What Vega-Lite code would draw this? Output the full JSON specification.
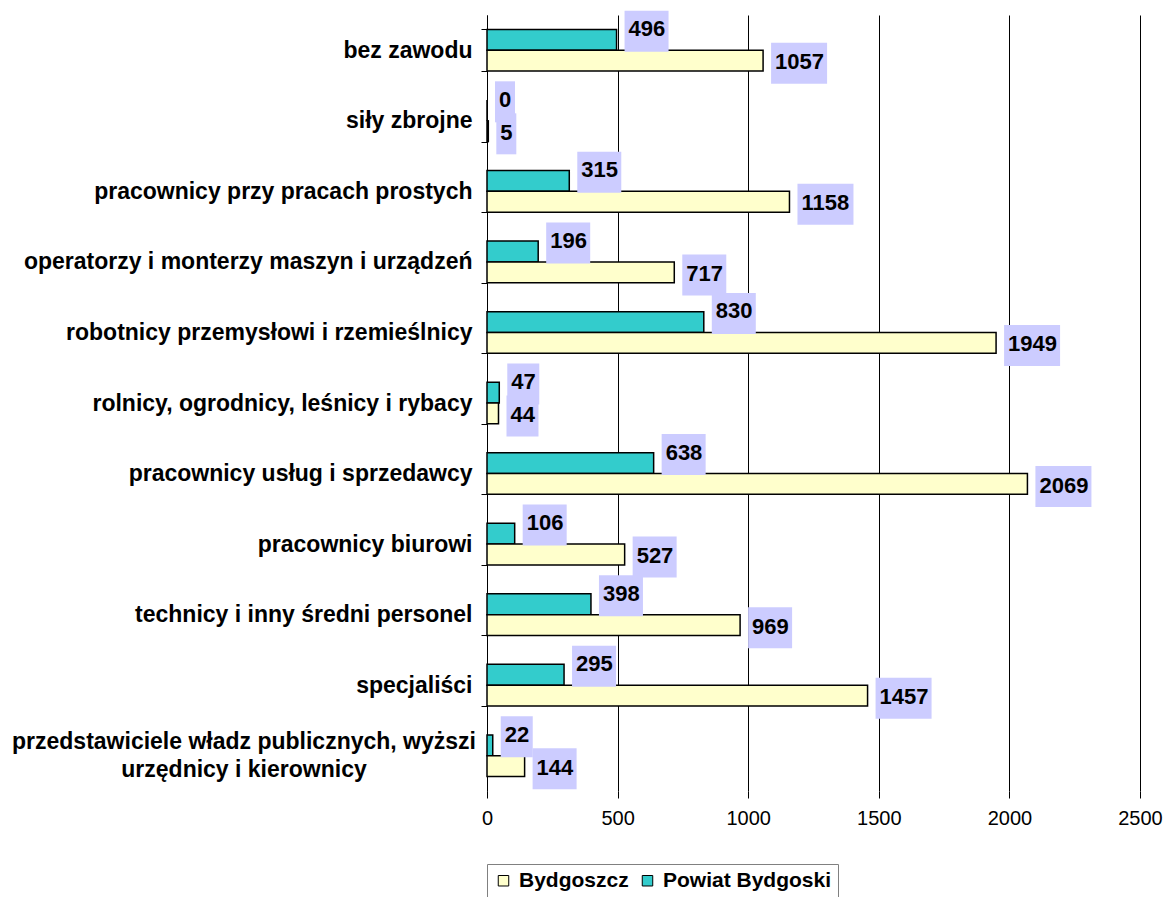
{
  "$schema": "https://vega.github.io/schema/vega-lite/v6.json",
  "autosize": "none",
  "width": 653,
  "height": 776,
  "padding": {"left": 487, "top": 15, "right": 28, "bottom": 106},
  "background": "white",
  "config": {"view": {"stroke": null}, "font": "Liberation Sans"},
  "data": {"values": [
    {"cat": "bez zawodu", "series": "Powiat Bydgoski", "value": 496},
    {"cat": "bez zawodu", "series": "Bydgoszcz", "value": 1057},
    {"cat": "siły zbrojne", "series": "Powiat Bydgoski", "value": 0},
    {"cat": "siły zbrojne", "series": "Bydgoszcz", "value": 5},
    {"cat": "pracownicy przy pracach prostych", "series": "Powiat Bydgoski", "value": 315},
    {"cat": "pracownicy przy pracach prostych", "series": "Bydgoszcz", "value": 1158},
    {"cat": "operatorzy i monterzy maszyn i urządzeń", "series": "Powiat Bydgoski", "value": 196},
    {"cat": "operatorzy i monterzy maszyn i urządzeń", "series": "Bydgoszcz", "value": 717},
    {"cat": "robotnicy przemysłowi i rzemieślnicy", "series": "Powiat Bydgoski", "value": 830},
    {"cat": "robotnicy przemysłowi i rzemieślnicy", "series": "Bydgoszcz", "value": 1949},
    {"cat": "rolnicy, ogrodnicy, leśnicy i rybacy", "series": "Powiat Bydgoski", "value": 47},
    {"cat": "rolnicy, ogrodnicy, leśnicy i rybacy", "series": "Bydgoszcz", "value": 44},
    {"cat": "pracownicy usług i sprzedawcy", "series": "Powiat Bydgoski", "value": 638},
    {"cat": "pracownicy usług i sprzedawcy", "series": "Bydgoszcz", "value": 2069},
    {"cat": "pracownicy biurowi", "series": "Powiat Bydgoski", "value": 106},
    {"cat": "pracownicy biurowi", "series": "Bydgoszcz", "value": 527},
    {"cat": "technicy i inny średni personel", "series": "Powiat Bydgoski", "value": 398},
    {"cat": "technicy i inny średni personel", "series": "Bydgoszcz", "value": 969},
    {"cat": "specjaliści", "series": "Powiat Bydgoski", "value": 295},
    {"cat": "specjaliści", "series": "Bydgoszcz", "value": 1457},
    {"cat": "przedstawiciele władz publicznych, wyższi urzędnicy i kierownicy", "series": "Powiat Bydgoski", "value": 22},
    {"cat": "przedstawiciele władz publicznych, wyższi urzędnicy i kierownicy", "series": "Bydgoszcz", "value": 144}
  ]},
  "encoding": {
    "y": {
      "field": "cat", "type": "nominal", "sort": null, "title": null,
      "scale": {"paddingInner": 0.41, "paddingOuter": 0.205},
      "axis": {
        "values": ["bez zawodu", "siły zbrojne", "pracownicy przy pracach prostych", "operatorzy i monterzy maszyn i urządzeń", "robotnicy przemysłowi i rzemieślnicy", "rolnicy, ogrodnicy, leśnicy i rybacy", "pracownicy usług i sprzedawcy", "pracownicy biurowi", "technicy i inny średni personel", "specjaliści"],
        "domainColor": "black", "domainWidth": 1,
        "tickColor": "black", "tickSize": 6, "tickBand": "extent",
        "labelFont": "Liberation Sans", "labelFontWeight": "bold", "labelFontSize": 23,
        "labelColor": "black", "labelPadding": 9, "labelLimit": 500
      }
    },
    "x": {
      "field": "value", "type": "quantitative", "title": null,
      "scale": {"domain": [0, 2500], "nice": false},
      "axis": {
        "values": [0, 500, 1000, 1500, 2000, 2500], "format": "d",
        "domain": false, "grid": true, "gridColor": "black", "gridWidth": 1, "gridOpacity": 1,
        "tickColor": "black", "tickSize": 7,
        "labelFont": "Liberation Sans", "labelFontSize": 20, "labelColor": "black", "labelPadding": 10,
        "labelFlush": false
      }
    }
  },
  "layer": [
    {
      "mark": {"type": "bar", "stroke": "black", "strokeWidth": 1.5},
      "encoding": {
        "yOffset": {"field": "series", "type": "nominal", "sort": ["Powiat Bydgoski", "Bydgoszcz"]},
        "color": {
          "field": "series", "type": "nominal",
          "scale": {"domain": ["Bydgoszcz", "Powiat Bydgoski"], "range": ["#FFFFCC", "#33CCCC"]},
          "legend": {
            "title": null, "orient": "bottom", "direction": "horizontal", "offset": 36,
            "strokeColor": "#808080", "padding": 6,
            "symbolType": "square", "symbolSize": 110, "symbolStrokeColor": "black", "symbolStrokeWidth": 1,
            "symbolOpacity": 1,
            "labelFont": "Liberation Sans", "labelFontWeight": "bold", "labelFontSize": 21, "labelColor": "black",
            "labelLimit": 400, "columnPadding": 8, "labelOffset": 5
          }
        }
      }
    },
    {
      "transform": [{"filter": "datum.series == 'Powiat Bydgoski' && datum.value < 10"}],
      "mark": {"type": "bar", "orient": "horizontal", "color": "#CCCCFF", "size": 41, "yOffset": -19, "xOffset": 8, "x2Offset": 28},
      "encoding": {"x2": {"field": "value"}}
    },
    {
      "transform": [{"filter": "datum.series == 'Powiat Bydgoski' && datum.value >= 10 && datum.value < 100"}],
      "mark": {"type": "bar", "orient": "horizontal", "color": "#CCCCFF", "size": 41, "yOffset": -19, "xOffset": 8, "x2Offset": 40},
      "encoding": {"x2": {"field": "value"}}
    },
    {
      "transform": [{"filter": "datum.series == 'Powiat Bydgoski' && datum.value >= 100"}],
      "mark": {"type": "bar", "orient": "horizontal", "color": "#CCCCFF", "size": 41, "yOffset": -19, "xOffset": 8, "x2Offset": 52},
      "encoding": {"x2": {"field": "value"}}
    },
    {
      "transform": [{"filter": "datum.series == 'Bydgoszcz' && datum.value < 10"}],
      "mark": {"type": "bar", "orient": "horizontal", "color": "#CCCCFF", "size": 41, "yOffset": 13, "xOffset": 8, "x2Offset": 28},
      "encoding": {"x2": {"field": "value"}}
    },
    {
      "transform": [{"filter": "datum.series == 'Bydgoszcz' && datum.value >= 10 && datum.value < 100"}],
      "mark": {"type": "bar", "orient": "horizontal", "color": "#CCCCFF", "size": 41, "yOffset": 13, "xOffset": 8, "x2Offset": 40},
      "encoding": {"x2": {"field": "value"}}
    },
    {
      "transform": [{"filter": "datum.series == 'Bydgoszcz' && datum.value >= 100 && datum.value < 1000"}],
      "mark": {"type": "bar", "orient": "horizontal", "color": "#CCCCFF", "size": 41, "yOffset": 13, "xOffset": 8, "x2Offset": 52},
      "encoding": {"x2": {"field": "value"}}
    },
    {
      "transform": [{"filter": "datum.series == 'Bydgoszcz' && datum.value >= 1000"}],
      "mark": {"type": "bar", "orient": "horizontal", "color": "#CCCCFF", "size": 41, "yOffset": 13, "xOffset": 8, "x2Offset": 64},
      "encoding": {"x2": {"field": "value"}}
    },
    {
      "transform": [{"filter": "datum.series == 'Powiat Bydgoski'"}],
      "mark": {"type": "text", "font": "Liberation Sans", "fontWeight": "bold", "fontSize": 22, "color": "black", "align": "left", "baseline": "middle", "dx": 12, "dy": -21},
      "encoding": {"text": {"field": "value", "type": "quantitative", "format": "d"}}
    },
    {
      "transform": [{"filter": "datum.series == 'Bydgoszcz'"}],
      "mark": {"type": "text", "font": "Liberation Sans", "fontWeight": "bold", "fontSize": 22, "color": "black", "align": "left", "baseline": "middle", "dx": 12, "dy": 12},
      "encoding": {"text": {"field": "value", "type": "quantitative", "format": "d"}}
    },
    {
      "transform": [{"filter": "datum.series == 'Bydgoszcz' && indexof(datum.cat, 'przedstawiciele') == 0"}],
      "mark": {"type": "text", "font": "Liberation Sans", "fontWeight": "bold", "fontSize": 23, "color": "black", "align": "center", "baseline": "middle", "dx": -243, "dy": -14},
      "encoding": {"x": {"datum": 0}, "text": {"value": "przedstawiciele władz publicznych, wyższi"}}
    },
    {
      "transform": [{"filter": "datum.series == 'Bydgoszcz' && indexof(datum.cat, 'przedstawiciele') == 0"}],
      "mark": {"type": "text", "font": "Liberation Sans", "fontWeight": "bold", "fontSize": 23, "color": "black", "align": "center", "baseline": "middle", "dx": -243, "dy": 14},
      "encoding": {"x": {"datum": 0}, "text": {"value": "urzędnicy i kierownicy"}}
    }
  ]
}
